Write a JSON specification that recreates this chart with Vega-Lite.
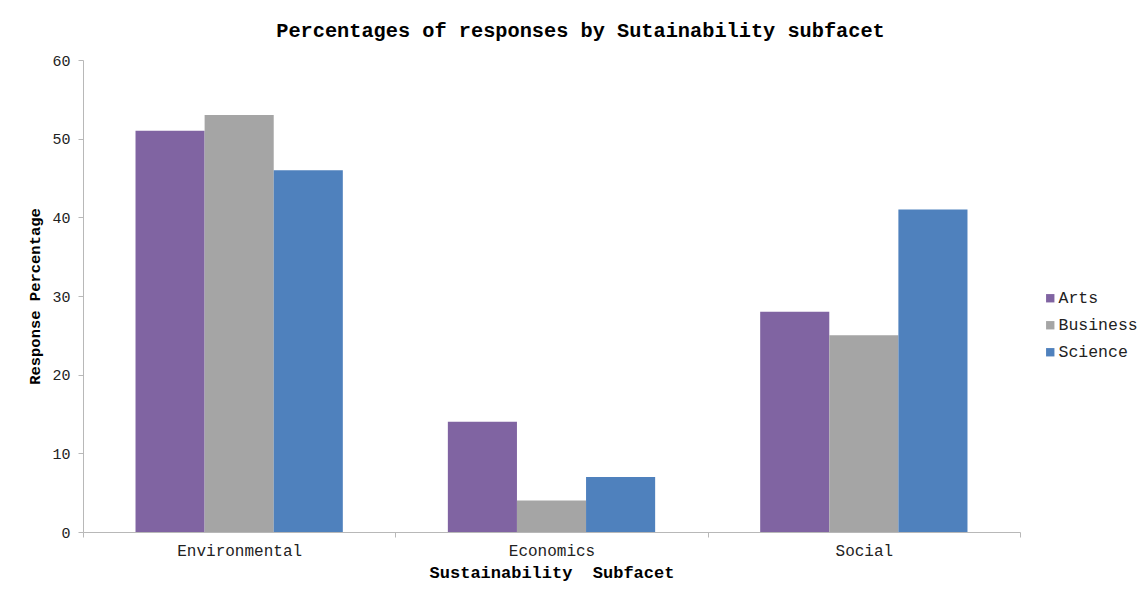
{
  "$schema": "https://vega.github.io/schema/vega-lite/v6.json",
  "width": 937,
  "height": 472,
  "autosize": {"type": "none"},
  "padding": {"left": 83, "top": 60, "right": 127, "bottom": 68},
  "background": "white",
  "title": {
    "text": "Percentages of responses by Sutainability subfacet",
    "font": "Liberation Mono",
    "fontSize": 20.3,
    "fontWeight": "bold",
    "color": "black",
    "anchor": "middle",
    "frame": "group",
    "dx": 29,
    "offset": 12
  },
  "data": {
    "values": [
      {"subfacet": "Environmental", "faculty": "Arts", "pct": 51},
      {"subfacet": "Environmental", "faculty": "Business", "pct": 53},
      {"subfacet": "Environmental", "faculty": "Science", "pct": 46},
      {"subfacet": "Economics", "faculty": "Arts", "pct": 14},
      {"subfacet": "Economics", "faculty": "Business", "pct": 4},
      {"subfacet": "Economics", "faculty": "Science", "pct": 7},
      {"subfacet": "Social", "faculty": "Arts", "pct": 28},
      {"subfacet": "Social", "faculty": "Business", "pct": 25},
      {"subfacet": "Social", "faculty": "Science", "pct": 41}
    ]
  },
  "mark": {"type": "bar"},
  "encoding": {
    "x": {
      "field": "subfacet",
      "type": "nominal",
      "sort": ["Environmental", "Economics", "Social"],
      "scale": {"paddingInner": 0, "paddingOuter": 0},
      "axis": {
        "title": "Sustainability\u00a0 Subfacet",
        "labelAngle": 0,
        "tickBand": "extent",
        "labelFont": "Liberation Mono",
        "labelFontSize": 16,
        "labelColor": "#222",
        "labelPadding": 5,
        "titleFont": "Liberation Mono",
        "titleFontSize": 17,
        "titleFontWeight": "bold",
        "titleColor": "black",
        "titlePadding": 6,
        "domainColor": "#b8b8b8",
        "tickColor": "#b8b8b8",
        "tickSize": 5,
        "grid": false
      }
    },
    "xOffset": {"field": "faculty", "type": "nominal", "scale": {"paddingInner": 0, "paddingOuter": 0.76}},
    "y": {
      "field": "pct",
      "type": "quantitative",
      "scale": {"domain": [0, 60]},
      "axis": {
        "title": "Response Percentage",
        "values": [0, 10, 20, 30, 40, 50, 60],
        "labelFont": "Liberation Mono",
        "labelFontSize": 15,
        "labelColor": "#222",
        "labelPadding": 8,
        "titleFont": "Liberation Mono",
        "titleFontSize": 15.5,
        "titleFontWeight": "bold",
        "titleColor": "black",
        "titlePadding": 9,
        "domainColor": "#b8b8b8",
        "tickColor": "#b8b8b8",
        "tickSize": 5,
        "grid": false
      }
    },
    "color": {
      "field": "faculty",
      "type": "nominal",
      "scale": {"domain": ["Arts", "Business", "Science"], "range": ["#8064A2", "#A5A5A5", "#4F81BD"]},
      "legend": {
        "title": null,
        "symbolType": "square",
        "symbolSize": 70,
        "symbolStrokeWidth": 0,
        "labelFont": "Liberation Mono",
        "labelFontSize": 16.5,
        "labelColor": "#222",
        "labelOffset": 0,
        "rowPadding": 10,
        "orient": "none",
        "legendX": 959,
        "legendY": 230,
        "padding": 0
      }
    }
  },
  "config": {"view": {"stroke": null}}
}
